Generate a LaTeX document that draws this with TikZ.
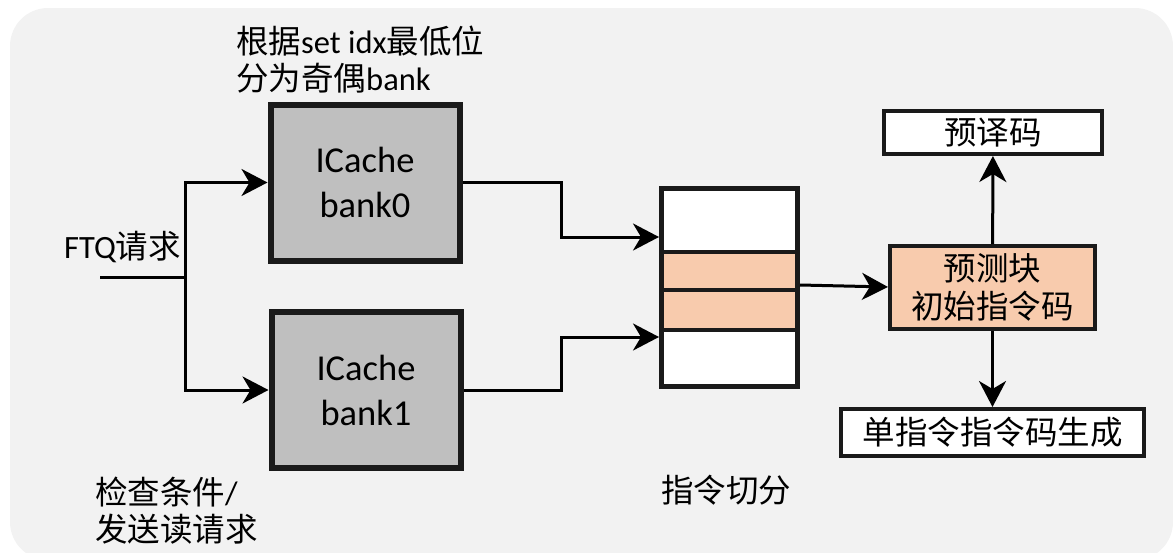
\documentclass[tikz,border=0pt]{standalone}
\usepackage{fontspec}
\setmainfont{Carlito}
\newfontfamily\cjk{Noto Sans CJK SC}
\usetikzlibrary{arrows.meta,calc}
\newcommand\zh[1]{{\cjk #1}}
\definecolor{bgc}{HTML}{F2F2F2}
\definecolor{bankc}{HTML}{BFBFBF}
\definecolor{peach}{HTML}{F8CBAD}
\definecolor{edgec}{HTML}{1A1A1A}
\tikzset{
  bankbox/.style={draw=edgec, fill=bankc, line width=6pt, minimum width=189pt, minimum height=156pt,
    align=center, inner sep=0pt, font=\fontsize{36.5}{45}\selectfont},
  stagebox/.style={draw=edgec, line width=4pt, align=center, inner sep=0pt,
    font=\fontsize{32.5}{38}\selectfont},
  label/.style={align=left, inner sep=0pt, font=\fontsize{32.5}{37}\selectfont},
  wire/.style={line width=3pt, draw=black},
  arr/.style={wire, -{Stealth[length=26pt,width=27pt,inset=8pt]}},
}
\begin{document}
\begin{tikzpicture}[x=1pt,y=-1pt]
\useasboundingbox (0,0) rectangle (1173,552);
\fill[bgc, rounded corners=38pt] (10,8) rectangle (1173,560);

% ICache banks
\node[bankbox] (b0) at (365,182.5) {ICache\\bank0};
\node[bankbox] (b1) at (366,390) {ICache\\bank1};

% instruction buffer split into slots
\node[fill=white, minimum width=136pt, minimum height=198pt, outer sep=2.5pt, inner sep=0pt] (buf) at (729.5,287.5) {};
\fill[peach] (buf.north west |- 0,252) rectangle (buf.east |- 0,330);
\foreach \yy in {252,290,330}
  \draw[edgec, line width=4pt] (buf.north west |- 0,\yy) -- (buf.north east |- 0,\yy);
\draw[edgec, line width=5pt] ($(buf.north west)+(2.5,2.5)$) rectangle ($(buf.south east)+(-2.5,-2.5)$);

% predecode stages
\node[stagebox, fill=peach, minimum width=205pt, minimum height=83pt] (pred) at (992.5,287.5) {\zh{预测块}\\\zh{初始指令码}};
\node[stagebox, fill=white, minimum width=218pt, minimum height=43pt] (pre) at (993,132.5) {\zh{预译码}};
\node[stagebox, fill=white, minimum width=303pt, minimum height=47pt] (gen) at (992.5,432.5) {\zh{单指令指令码生成}};

% labels
\node[label, anchor=west] (l0) at (236,60) {\zh{根据}set idx\zh{最低位}\\\zh{分为奇偶}bank};
\node[label, anchor=west] (lftq) at (64,247) {FTQ\zh{请求}};
\node[label, anchor=west] (l1) at (95,511) {\zh{检查条件}/\\\zh{发送读请求}};
\node[label, anchor=west] (lbuf) at (661,490) {\zh{指令切分}};

% request fan-out
\coordinate (src) at (100,277);
\coordinate (fork) at (185.5,277);
\draw[wire] (src) -- (fork);
\draw[arr] (fork) |- (b0);
\draw[arr] (fork) |- (b1);

% bank outputs into the buffer
\draw[arr] (b0.east) -- (561,182.5) |- (buf.west |- 0,237);
\draw[arr] (b1.east) -- (561,390) |- (buf.west |- 0,337);

% buffer to predecode
\draw[arr] (buf.east |- 0,285) -- (pred.west |- 0,287);
\draw[arr] (pred) -- (pre);
\draw[arr] (pred) -- (gen);
\end{tikzpicture}
\end{document}
